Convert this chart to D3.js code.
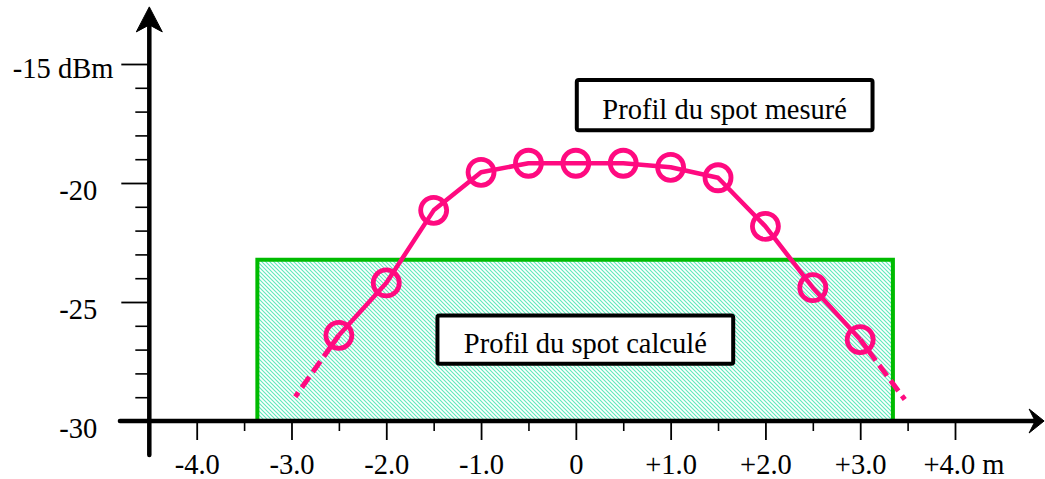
<!DOCTYPE html>
<html>
<head>
<meta charset="utf-8">
<script src="https://cdn.jsdelivr.net/npm/d3@7"></script>
<style>
  body { margin: 0; background: #fff; }
  text { font-family: "Liberation Serif", "Times New Roman", serif; fill: #000; }
</style>
</head>
<body>
<script>
// measured spot profile
const spotX = [-2.5, -2.0, -1.5, -1.0, -0.5, 0, 0.5, 1.0, 1.5, 2.0, 2.5, 3.0];
const spotDbm = [-26.4, -24.2, -21.15, -19.55, -19.17, -19.17, -19.17, -19.34, -19.78, -21.82, -24.4, -26.58];
// dashed extrapolation at both ends
const tailX = [-2.96, 3.47];
const tailDbm = [-28.98, -29.1];
// computed spot (flat band)
const calcX = [-3.36, 3.345];
const calcDbm = -23.22;

const xTickValues = [-4, -3, -2, -1, 0, 1, 2, 3, 4];
const xTickLabels = ["-4.0", "-3.0", "-2.0", "-1.0", "0", "+1.0", "+2.0", "+3.0", "+4.0 m"];
const xMinorTicks = [-3.5, -2.5, -1.5, -0.5, 0.5, 1.5, 2.5, 3.5];
const yTickValues = [-30, -25, -20, -15];
const yTickLabels = ["-30", "-25", "-20", "-15 dBm"];
const yMinorTicks = [-29, -28, -27, -26, -24, -23, -22, -21, -19, -18, -17, -16];

const notes = [
  { text: "Profil du spot mesuré", x0: 0.01, x1: 3.13, y0: -15.67, y1: -17.78 },
  { text: "Profil du spot calculé", x0: -1.46, x1: 1.66, y0: -25.57, y1: -27.59 }
];

const width = 1045, height = 479;
const pink = "#ff0a80";

const x = d3.scaleLinear().domain([-4, 4]).range([196.7, 955]);
const y = d3.scaleLinear().domain([-30, -15]).range([421, 64]);

const svg = d3.select("body").append("svg")
    .attr("width", width)
    .attr("height", height);

const defs = svg.append("defs");
const pat = defs.append("pattern")
    .attr("id", "hatch")
    .attr("patternUnits", "userSpaceOnUse")
    .attr("width", 4)
    .attr("height", 4);
pat.append("rect").attr("width", 4).attr("height", 4).attr("fill", "#fff");
pat.append("path")
    .attr("d", "M-1,-1 L5,5 M-1,3 L1,5 M3,-1 L5,1")
    .attr("stroke", "#5eeabc")
    .attr("stroke-width", 1.1);

// computed spot band
svg.append("path")
    .attr("d", `M${x(calcX[0])},${y(-30)} V${y(calcDbm)} H${x(calcX[1])} V${y(-30)}`)
    .attr("fill", "url(#hatch)")
    .attr("stroke", "#00bb00")
    .attr("stroke-width", 4);

// annotation boxes
const note = svg.selectAll("g.note")
    .data(notes)
    .enter().append("g")
    .attr("class", "note");

note.append("rect")
    .attr("x", d => x(d.x0))
    .attr("y", d => y(d.y0))
    .attr("width", d => x(d.x1) - x(d.x0))
    .attr("height", d => y(d.y1) - y(d.y0))
    .attr("rx", 2)
    .attr("fill", "#fff")
    .attr("stroke", "#000")
    .attr("stroke-width", 4);

note.append("text")
    .attr("x", d => (x(d.x0) + x(d.x1)) / 2)
    .attr("y", d => y(d.y1) - 11)
    .attr("text-anchor", "middle")
    .attr("font-size", 28.5)
    .text(d => d.text);

// measured profile
const line = d3.line()
    .x(d => x(d[0]))
    .y(d => y(d[1]));

const pts = spotX.map((v, i) => [v, spotDbm[i]]);

svg.append("path")
    .attr("d", line(pts))
    .attr("fill", "none")
    .attr("stroke", pink)
    .attr("stroke-width", 4.5)
    .attr("stroke-linejoin", "round");

const tails = [
  [pts[0], [tailX[0], tailDbm[0]]],
  [pts[pts.length - 1], [tailX[1], tailDbm[1]]]
];
svg.selectAll("path.tail")
    .data(tails)
    .enter().append("path")
    .attr("class", "tail")
    .attr("d", line)
    .attr("fill", "none")
    .attr("stroke", pink)
    .attr("stroke-width", 5)
    .attr("stroke-dasharray", "26,6,13,6,13,6,14");

svg.selectAll("circle.pt")
    .data(pts)
    .enter().append("circle")
    .attr("class", "pt")
    .attr("cx", d => x(d[0]))
    .attr("cy", d => y(d[1]))
    .attr("r", 13)
    .attr("fill", "none")
    .attr("stroke", pink)
    .attr("stroke-width", 4.8);

// y axis
const x0 = x(-4.5);
const gyMinor = svg.append("g")
    .attr("transform", `translate(${x0},0)`)
    .call(d3.axisLeft(y).tickValues(yMinorTicks).tickSize(14).tickFormat(""));
gyMinor.select(".domain").remove();
gyMinor.selectAll("line").attr("stroke-width", 1.6);

const gy = svg.append("g")
    .attr("transform", `translate(${x0},0)`)
    .call(d3.axisLeft(y).tickValues(yTickValues).tickSize(28).tickPadding(24)
        .tickFormat((d, i) => yTickLabels[i]));
gy.select(".domain").remove();
gy.selectAll("line").attr("stroke-width", 1.8);
gy.selectAll("text")
    .attr("font-size", 28.5)
    .attr("font-family", null)
    .attr("dy", null)
    .attr("y", (d, i) => i === 3 ? 13 : 16)
    .attr("dx", (d, i) => i === 3 ? 16 : 0);

// x axis
const y0 = y(-30);
const gxMinor = svg.append("g")
    .attr("transform", `translate(0,${y0})`)
    .call(d3.axisBottom(x).tickValues(xMinorTicks).tickSize(10).tickFormat(""));
gxMinor.select(".domain").remove();
gxMinor.selectAll("line").attr("stroke-width", 1.6);

const gx = svg.append("g")
    .attr("transform", `translate(0,${y0})`)
    .call(d3.axisBottom(x).tickValues(xTickValues).tickSize(19)
        .tickFormat((d, i) => xTickLabels[i]));
gx.select(".domain").remove();
gx.selectAll("line").attr("stroke-width", 1.8);
gx.selectAll("text")
    .attr("font-size", 28.5)
    .attr("font-family", null)
    .attr("dy", null)
    .attr("y", 53)
    .attr("text-anchor", (d, i) => i === xTickLabels.length - 1 ? "start" : "middle")
    .attr("x", (d, i) => i === xTickLabels.length - 1 ? -32 : 0);
svg.selectAll(".tick text").attr("fill", "#000");

// axis lines with arrows
const yTop = y(-12.6), yBottom = y(-31.43);
const xLeft = x(-4.81), xRight = x(4.94);

svg.append("line")
    .attr("x1", x0).attr("x2", x0)
    .attr("y1", yBottom).attr("y2", yTop + 16)
    .attr("stroke", "#000").attr("stroke-width", 4.5).attr("stroke-linecap", "round");
svg.append("path")
    .attr("d", `M${x0},${yTop} L${x0 + 13},${yTop + 25} L${x0},${yTop + 18} L${x0 - 13},${yTop + 25} Z`)
    .attr("fill", "#000").attr("stroke", "#000").attr("stroke-width", 1).attr("stroke-linejoin", "round");

svg.append("line")
    .attr("x1", xLeft).attr("x2", xRight - 8)
    .attr("y1", y0).attr("y2", y0)
    .attr("stroke", "#000").attr("stroke-width", 4.5).attr("stroke-linecap", "round");
svg.append("path")
    .attr("d", `M${xRight},${y0} L${xRight - 15},${y0 + 12} L${xRight - 9},${y0} L${xRight - 15},${y0 - 12} Z`)
    .attr("fill", "#000").attr("stroke", "#000").attr("stroke-width", 1).attr("stroke-linejoin", "round");
</script>
</body>
</html>
